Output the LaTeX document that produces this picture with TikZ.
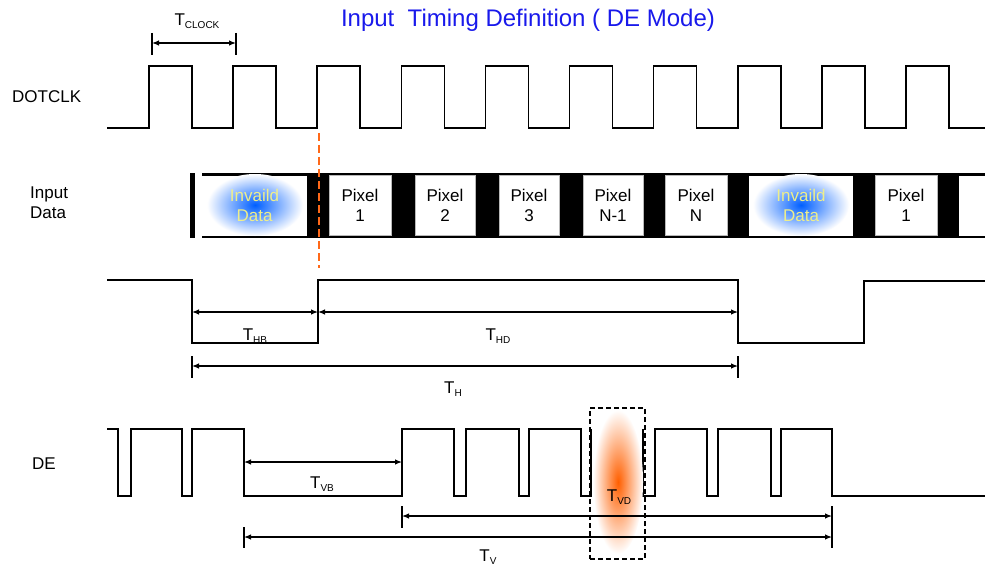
\documentclass[tikz,border=0pt]{standalone}
\usepackage{fontspec}
\setmainfont{Liberation Sans}
\usetikzlibrary{arrows.meta}
\definecolor{titleblue}{RGB}{25,25,235}
\definecolor{glowblue}{RGB}{0,95,255}
\definecolor{gloworange}{RGB}{255,95,0}
\definecolor{invtext}{RGB}{238,238,140}
\definecolor{dashorange}{RGB}{255,105,25}
\newcommand{\Tlab}[1]{T\raisebox{-0.35ex}{\fontsize{10}{10}\selectfont #1}}
\begin{document}
\begin{tikzpicture}[x=1pt,y=-1pt,
  sig/.style={line width=1.6pt, line join=miter},
  dim/.style={line width=1.2pt, {Latex[length=7pt,width=5.5pt]}-{Latex[length=7pt,width=5.5pt]}},
  tick/.style={line width=1.4pt},
  lbl/.style={font=\fontsize{17}{20}\selectfont, inner sep=0pt},
  tlbl/.style={font=\fontsize{17}{20}\selectfont, inner sep=0pt},
  pixbox/.style={fill=white, draw=gray!55, line width=0.6pt, inner sep=0pt,
     minimum height=60pt, align=center, font=\fontsize{17}{20}\selectfont},
  invbox/.style={fill=white, inner sep=0pt, minimum height=60pt},
  invtxt/.style={align=center, text=invtext, font=\fontsize{17}{20}\selectfont, inner sep=0pt},
]
\useasboundingbox (0,0) rectangle (985,567);

% title
\node[font=\fontsize{24}{28}\selectfont, text=titleblue, inner sep=0pt] (title) at (528,20) {Input\ \ Timing Definition ( DE Mode)};

% left labels
\node[lbl, anchor=west] (lclk) at (12,97) {DOTCLK};
\node[lbl, anchor=west, align=left] (ldata) at (30,203) {Input\\Data};
\node[lbl, anchor=west] (lde) at (32,464) {DE};

% DOTCLK
\draw[sig] (107,128)
  \foreach \k in {0,...,9} { -- ({149+84.1*\k},128) -- ({149+84.1*\k},66) -- ({192+84.1*\k},66) -- ({192+84.1*\k},128) }
  -- (985,128);

% T_CLOCK
\coordinate (tclkL) at (152,43);
\coordinate (tclkR) at (236,43);
\draw[tick] (152,33) -- (152,55);
\draw[tick] (236,33) -- (236,55);
\draw[dim] (tclkL) -- (tclkR);
\node[tlbl] (tclk) at (197,21) {\Tlab{CLOCK}};

% Input data bus
\fill (190,173) rectangle (195,238);
\fill (202,173) rectangle (985,238);
\node[invbox, minimum width=105pt] (inv1) at (254.5,205.5) {};
\node[pixbox, minimum width=62pt] (p1) at (360,205.5) {Pixel\\1};
\node[pixbox, minimum width=60pt] (p2) at (445,205.5) {Pixel\\2};
\node[pixbox, minimum width=60pt] (p3) at (529,205.5) {Pixel\\3};
\node[pixbox, minimum width=60pt] (pn1) at (613,205.5) {Pixel\\N-1};
\node[pixbox, minimum width=62pt] (pn) at (696,205.5) {Pixel\\N};
\node[invbox, minimum width=104pt] (inv2) at (801,205.5) {};
\node[pixbox, minimum width=62pt] (p1b) at (906,205.5) {Pixel\\1};
\fill[white] (959,175.5) rectangle (985,235.5);
\shade[inner color=glowblue, outer color=white] (255,205) ellipse [x radius=48pt, y radius=31pt];
\shade[inner color=glowblue, outer color=white] (801,205) ellipse [x radius=48pt, y radius=31pt];
\node[invtxt] (inv1t) at (inv1.center) {Invaild\\Data};
\node[invtxt] (inv2t) at (inv2.center) {Invaild\\Data};

% orange dashed marker
\coordinate (odT) at (319,133);
\coordinate (odB) at (319,268);
\draw[dashorange, line width=2.2pt, dash pattern=on 8pt off 4pt] (odT) -- (odB);

% H signal
\draw[sig] (107,280) -- (192,280) -- (192,343) -- (318,343) -- (318,280) -- (738,280)
  -- (738,343) -- (864,343) -- (864,281) -- (985,281);
\coordinate (thbL) at (192,312);
\coordinate (thbR) at (318,312);
\coordinate (thdR) at (738,312);
\draw[dim] (thbL) -- (thbR);
\draw[dim] (thbR) -- (thdR);
\node[tlbl] (thb) at (255,336) {\Tlab{HB}};
\node[tlbl] (thd) at (498,336) {\Tlab{HD}};
\coordinate (thL) at (192,366);
\coordinate (thR) at (738,366);
\draw[tick] (192,356) -- (192,378);
\draw[tick] (738,356) -- (738,378);
\draw[dim] (thL) -- (thR);
\node[tlbl] (th) at (453,389) {\Tlab{H}};

% DE signal
\draw[sig] (107,429) -- (118,429) -- (118,496) -- (131,496) -- (131,429) -- (182,429)
  -- (182,496) -- (192,496) -- (192,429) -- (244,429) -- (244,496) -- (402,496)
  -- (402,429) -- (454,429) -- (454,496) -- (466,496) -- (466,429) -- (519,429)
  -- (519,496) -- (529,496) -- (529,429) -- (581,429) -- (581,496) -- (591,496)
  -- (591,429) (643,429) -- (643,496) -- (655,496) -- (655,429) -- (707,429)
  -- (707,496) -- (718,496) -- (718,429) -- (771,429) -- (771,496) -- (781,496)
  -- (781,429) -- (832,429) -- (832,496) -- (985,496);

% T_VD glow and box
\shade[inner color=gloworange, outer color=white] (618,482) ellipse [x radius=25pt, y radius=72pt];
\node[draw, dashed, line width=1.5pt, dash pattern=on 5pt off 3pt, minimum width=55pt, minimum height=151pt, inner sep=0pt] (vdbox) at (617.5,483.5) {};
\node[tlbl] (tvd) at (619,497) {\Tlab{VD}};

% V dimensions
\coordinate (tvbL) at (244,462);
\coordinate (tvbR) at (402,462);
\draw[dim] (tvbL) -- (tvbR);
\node[tlbl] (tvb) at (322,484) {\Tlab{VB}};
\coordinate (tvdL) at (402,516);
\coordinate (tvdR) at (832,516);
\coordinate (tvL) at (244,537);
\coordinate (tvR) at (832,537);
\draw[tick] (402,506) -- (402,528);
\draw[tick] (244,527) -- (244,548);
\draw[tick] (832,506) -- (832,548);
\draw[dim] (tvdL) -- (tvdR);
\draw[dim] (tvL) -- (tvR);
\node[tlbl] (tv) at (488,557) {\Tlab{V}};
\end{tikzpicture}
\end{document}
